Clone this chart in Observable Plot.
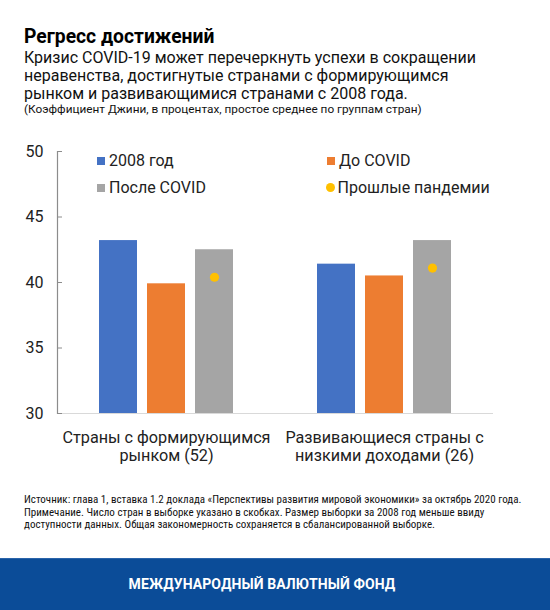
<!DOCTYPE html>
<html>
<head>
<meta charset="utf-8">
<script src="https://cdn.jsdelivr.net/npm/d3@7"></script>
<script src="https://cdn.jsdelivr.net/npm/@observablehq/plot@0.6"></script>
<style>
  html, body { margin: 0; padding: 0; background: #fff; }
  #wrap { position: relative; width: 550px; height: 610px; overflow: hidden; font-family: Roboto, "Liberation Sans", sans-serif; color: #111; }
  .abs { position: absolute; white-space: nowrap; }
  #title { left: 24px; top: 24.5px; font-size: 19.3px; line-height: 24px; font-weight: 700; color: #000; }
  #subtitle { left: 24px; top: 48.5px; font-size: 16px; line-height: 18.4px; color: #111; }
  #note { left: 24px; top: 102px; font-size: 11.8px; line-height: 14px; color: #111; }
  #chart { left: 0; top: 130px; }
  #legend { left: 0; top: 0; width: 550px; height: 0; font-size: 16px; color: #222; }
  .li { position: absolute; line-height: 20px; }
  .sw { display: inline-block; width: 8px; height: 8px; margin-right: 4px; vertical-align: 1px; }
  .dotsw { display: inline-block; width: 9px; height: 9px; border-radius: 50%; margin-right: 3px; vertical-align: 1px; }
  #foot { left: 24px; top: 494px; font-family: "Liberation Sans Narrow", "Roboto Condensed", Roboto, sans-serif; font-size: 11px; line-height: 12.5px; color: #111; }
  #band { left: 0; top: 558px; width: 550px; height: 52px; background: #0B4C98; border-top: 1px solid #2a64aa; box-sizing: border-box; }
  #band div { width: 524px; text-align: center; color: #fff; font-weight: 700; font-size: 14px; line-height: 50px; letter-spacing: 0.1px; }
</style>
</head>
<body>
<div id="wrap">
  <div id="title" class="abs">Регресс достижений</div>
  <div id="subtitle" class="abs">Кризис COVID-19 может перечеркнуть успехи в сокращении<br>неравенства, достигнутые странами с формирующимся<br>рынком и развивающимися странами с 2008 года.</div>
  <div id="note" class="abs">(Коэффициент Джини, в процентах, простое среднее по группам стран)</div>
  <div id="chart" class="abs"></div>
  <div id="legend" class="abs"></div>
  <div id="foot" class="abs">Источник: глава 1, вставка 1.2 доклада «Перспективы развития мировой экономики» за октябрь 2020 года.<br>Примечание. Число стран в выборке указано в скобках. Размер выборки за 2008 год меньше ввиду<br>доступности данных. Общая закономерность сохраняется в сбалансированной выборке.</div>
  <div id="band" class="abs"><div>МЕЖДУНАРОДНЫЙ ВАЛЮТНЫЙ ФОНД</div></div>
</div>
<script>
// ---- data ----
const groups = ["Страны с формирующимся\nрынком (52)", "Развивающиеся страны с\nнизкими доходами (26)"];
const series = ["2008 год", "До COVID", "После COVID"];
const values2008 = [43.2, 41.4];
const valuesPreCovid = [39.9, 40.5];
const valuesPostCovid = [42.5, 43.2];
const valuesPastPandemics = [40.4, 41.1];
const pandemicLabel = "Прошлые пандемии";
const yTicks = [30, 35, 40, 45, 50];
const seriesColors = ["#4472C4", "#ED7D31", "#A5A5A5"];
const pandemicColor = "#FFC000";

const seriesValues = [values2008, valuesPreCovid, valuesPostCovid];
const rows = [];
groups.forEach((g, gi) => series.forEach((s, si) => rows.push({group: g, series: s, value: seriesValues[si][gi]})));
const dots = groups.map((g, gi) => ({group: g, series: series[2], value: valuesPastPandemics[gi]}));

const chart = Plot.plot({
  width: 550,
  height: 345,
  marginLeft: 57,
  marginRight: 57,
  marginTop: 21,
  marginBottom: 62,
  style: {fontFamily: "Roboto, 'Liberation Sans', sans-serif", background: "transparent"},
  fx: {domain: groups, padding: 0, label: null},
  x: {domain: series, paddingInner: 0.2, paddingOuter: 0.86, axis: null},
  y: {domain: [30, 50], clamp: true, label: null},
  color: {domain: series, range: seriesColors},
  marks: [
    Plot.barY(rows, {fx: "group", x: "series", y: "value", fill: "series"}),
    Plot.ruleY([yTicks[0]], {stroke: "#d9d9d9", strokeWidth: 1}),
    Plot.frame({anchor: "left", facetAnchor: "left", stroke: "#8c8c8c", strokeWidth: 1.2}),
    Plot.dot(dots, {fx: "group", x: "series", y: "value", fill: pandemicColor, r: 4.6}),
    Plot.axisY({ticks: yTicks, tickSize: -5, tickPadding: 19, stroke: "#8c8c8c", fill: "#222", fontSize: 16, label: null}),
    Plot.axisFx({anchor: "bottom", tickSize: 0, tickPadding: 16, fontSize: 16.2, lineHeight: 1.14, fill: "#222", label: null})
  ]
});
document.getElementById("chart").appendChild(chart);

// legend overlay
const legend = document.getElementById("legend");
const items = [
  {label: series[0], color: seriesColors[0], left: 97, top: 151, dot: false},
  {label: series[1], color: seriesColors[1], left: 327, top: 151, dot: false},
  {label: series[2], color: seriesColors[2], left: 97, top: 178, dot: false},
  {label: pandemicLabel, color: pandemicColor, left: 325.5, top: 178, dot: true}
];
items.forEach(it => {
  const d = document.createElement("div");
  d.className = "li";
  d.style.left = it.left + "px";
  d.style.top = it.top + "px";
  const sw = document.createElement("span");
  sw.className = it.dot ? "dotsw" : "sw";
  sw.style.background = it.color;
  d.appendChild(sw);
  d.appendChild(document.createTextNode(it.label));
  legend.appendChild(d);
});
</script>
</body>
</html>
